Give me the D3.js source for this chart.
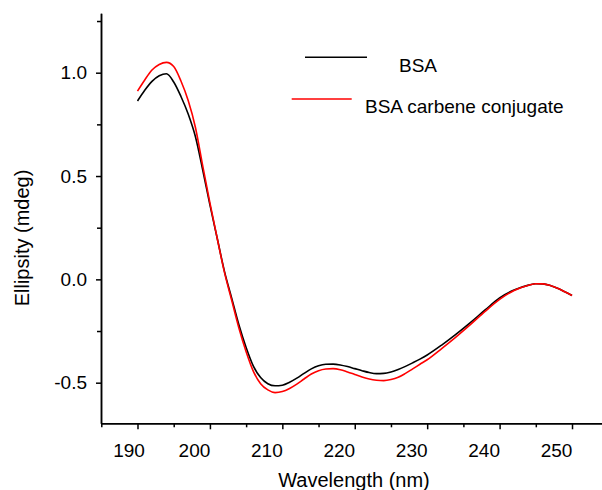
<!DOCTYPE html>
<html>
<head>
<meta charset="utf-8">
<script src="https://cdn.jsdelivr.net/npm/d3@7"></script>
<style>
	body { margin: 0; background: white; }
	svg { display: block; }
	text { font-family: 'Liberation Sans', Arial, Helvetica, sans-serif; fill: black; }
	.axis path, .axis line { stroke: black; stroke-width: 1.5; }
</style>
</head>
<body>
<div id="chart"></div>
<script>
// wavelength (nm) and ellipticity (mdeg)
var wavelength = [190, 191, 192, 193, 194, 195, 196, 197, 198, 199, 200, 201, 202, 203, 204, 205, 206, 207, 208, 209,
	210, 211, 212, 213, 214, 215, 216, 217, 218, 219, 220, 221, 222, 223, 224, 225, 226, 227, 228, 229,
	230, 232, 234, 236, 238, 240, 242, 244, 245, 246, 247, 248, 249, 250];

var bsa = [0.863, 0.915, 0.958, 0.985, 0.995, 0.955, 0.885, 0.80, 0.69, 0.53, 0.36, 0.20, 0.04, -0.09, -0.22, -0.33, -0.42, -0.475, -0.505, -0.515,
	-0.512, -0.498, -0.478, -0.455, -0.433, -0.418, -0.411, -0.410, -0.414, -0.422, -0.432, -0.442, -0.451, -0.456, -0.455, -0.448, -0.436, -0.421, -0.404, -0.386,
	-0.366, -0.318, -0.265, -0.208, -0.148, -0.09, -0.052, -0.028, -0.021, -0.022, -0.03, -0.043, -0.06, -0.078];

var conjugate = [0.911, 0.965, 1.013, 1.04, 1.05, 1.03, 0.96, 0.865, 0.735, 0.55, 0.37, 0.20, 0.035, -0.10, -0.235, -0.35, -0.445, -0.505, -0.535, -0.548,
	-0.543, -0.528, -0.507, -0.482, -0.458, -0.442, -0.434, -0.432, -0.437, -0.448, -0.46, -0.472, -0.482, -0.488, -0.49, -0.485, -0.474, -0.455, -0.433, -0.411,
	-0.389, -0.335, -0.278, -0.218, -0.155, -0.097, -0.054, -0.029, -0.021, -0.022, -0.03, -0.043, -0.06, -0.078];

var x_major = [190, 200, 210, 220, 230, 240, 250];
var x_minor = [185, 195, 205, 215, 225, 235, 245];
var y_major = [-0.5, 0.0, 0.5, 1.0];
var y_minor = [-0.25, 0.25, 0.75, 1.25];

var series_names = ['BSA', 'BSA carbene conjugate'];
var series_colors = ['black', 'red'];


function create_chart() {
	var width = 602;
	var height = 490;

	var svg = d3.select('#chart')
		.append('svg')
		.attr('width', width)
		.attr('height', height);

	var x = d3.scaleLinear()
		.domain([184.96, 254.14])
		.range([101, 602]);

	var y = d3.scaleLinear()
		.domain([-0.6965, 1.2874])
		.range([423.3, 13.3]);

	// x axis, minor ticks first
	svg.append('g')
		.attr('class', 'axis')
		.attr('transform', 'translate(0,' + y.range()[0] + ')')
		.call(d3.axisBottom(x).tickValues(x_minor).tickSize(4).tickSizeOuter(0).tickFormat(''));

	var x_axis = svg.append('g')
		.attr('class', 'axis')
		.attr('transform', 'translate(0,' + y.range()[0] + ')')
		.call(d3.axisBottom(x).tickValues(x_major).tickSize(6).tickSizeOuter(0).tickPadding(14));
	x_axis.selectAll('text')
		.style('font-size', '19px')
		.attr('dx', function(d, i) { return i == 0 ? -9 : -16; });

	// y axis
	svg.append('g')
		.attr('class', 'axis')
		.attr('transform', 'translate(' + x.range()[0] + ',0)')
		.call(d3.axisLeft(y).tickValues(y_minor).tickSize(4).tickSizeOuter(0).tickFormat(''));

	var y_axis = svg.append('g')
		.attr('class', 'axis')
		.attr('transform', 'translate(' + x.range()[0] + ',0)')
		.call(d3.axisLeft(y).tickValues(y_major).tickSize(5).tickSizeOuter(0).tickPadding(9)
			.tickFormat(function(d) { return d.toFixed(1); }));
	y_axis.selectAll('text')
		.style('font-size', '19px');

	svg.selectAll('.axis text').style('font-family', null).style('fill', 'black');

	// axis titles
	svg.append('text')
		.attr('text-anchor', 'middle')
		.attr('x', 354)
		.attr('y', 487)
		.style('font-size', '20px')
		.text('Wavelength (nm)');

	svg.append('text')
		.attr('text-anchor', 'middle')
		.attr('transform', 'translate(29,238) rotate(-90)')
		.style('font-size', '20px')
		.text('Ellipsity (mdeg)');

	// lines
	var series = [bsa, conjugate];
	var line = d3.line()
		.x(function(d, i) { return x(wavelength[i]); })
		.y(function(d) { return y(d); })
		.curve(d3.curveMonotoneX);

	svg.append('g')
		.selectAll('path')
		.data(series)
		.enter()
		.append('path')
			.attr('d', line)
			.attr('fill', 'none')
			.attr('stroke', function(d, i) { return series_colors[i]; })
			.attr('stroke-width', 1.6);

	// legend
	var legend = [
		{x1: 305, x2: 367, ly: 57.3, tx: 399, ty: 72.3},
		{x1: 291.7, x2: 351.7, ly: 99, tx: 365, ty: 113.3}
	];
	legend.forEach(function(l, i) {
		svg.append('line')
			.attr('x1', l.x1)
			.attr('x2', l.x2)
			.attr('y1', l.ly)
			.attr('y2', l.ly)
			.attr('stroke', series_colors[i])
			.attr('stroke-width', 1.5);
		svg.append('text')
			.attr('x', l.tx)
			.attr('y', l.ty)
			.style('font-size', '19px')
			.text(series_names[i]);
	});
}


create_chart();
</script>
</body>
</html>
